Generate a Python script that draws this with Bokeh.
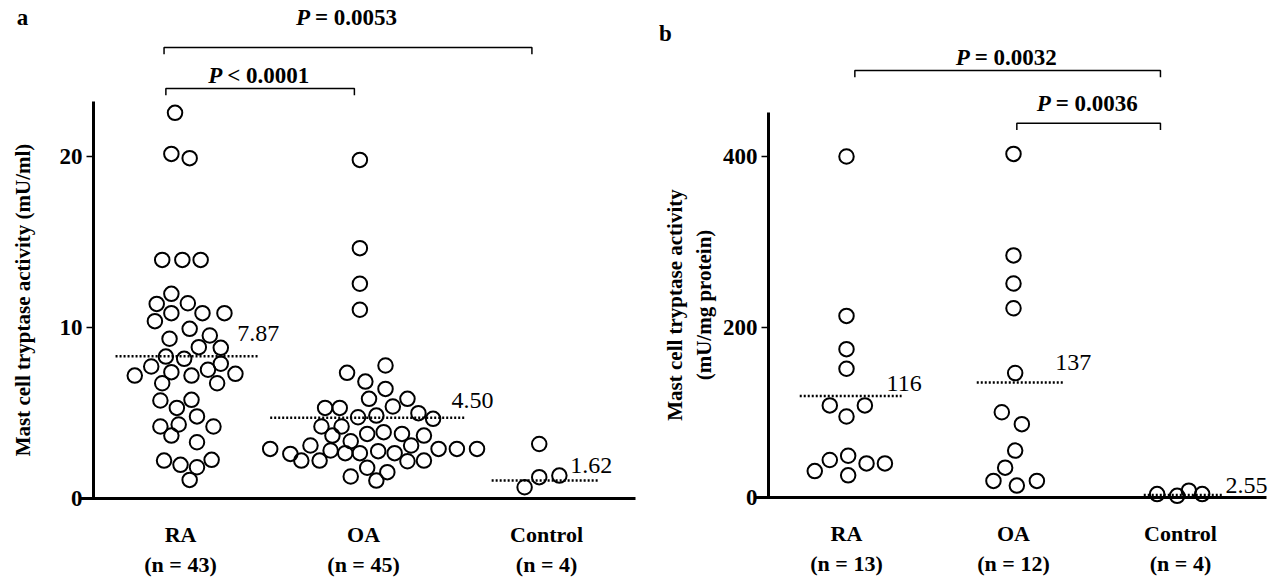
from bokeh.plotting import figure
from bokeh.layouts import row
from bokeh.models import FixedTicker, Range1d
from bokeh.core.properties import value
from bokeh.embed import file_html
from bokeh.resources import INLINE

# ---------------- data ----------------
groups = ["RA", "OA", "Control"]
a_n = [43, 45, 4]
b_n = [13, 12, 4]

# panel a: mast cell tryptase activity (mU/ml)
a_ra = [22.55, 20.15, 19.9, 13.95, 13.95, 13.95, 11.97, 11.38, 11.42, 10.84, 10.84, 10.84,
        10.37, 9.92, 9.34, 9.53, 8.85, 8.81, 8.30, 8.17, 7.88, 7.72, 7.19, 7.39, 7.19, 7.53,
        7.29, 6.74, 6.74, 5.73, 5.30, 5.77, 4.80, 4.21, 4.33, 3.68, 4.21, 3.29, 2.22, 1.97,
        1.83, 2.26, 1.09]
a_ra_jit = [-0.03, -0.05, 0.05, -0.10, 0.01, 0.11, -0.05, -0.13, 0.04, -0.05, 0.12, 0.24,
            -0.14, 0.05, -0.06, 0.16, 0.10, 0.22, -0.08, 0.02, 0.22, -0.16, -0.25, -0.05, 0.06, 0.15,
            0.30, -0.10, 0.20, -0.11, -0.02, 0.06, 0.09, -0.11, -0.01, -0.05, 0.18, 0.09, -0.09, 0.00,
            0.09, 0.17, 0.05]
a_oa = [19.8, 14.64, 12.56, 11.04, 7.78, 7.35, 6.84, 6.41, 5.83, 5.83, 5.30, 5.30, 5.38,
        4.99, 4.66, 4.75, 4.85, 4.21, 4.21, 3.78, 3.88, 3.78, 3.68, 3.68, 3.35, 3.10, 2.90,
        2.61, 2.22, 2.22, 2.81, 2.65, 2.65, 2.77, 2.65, 3.10, 2.90, 2.90, 2.90, 2.18, 2.22,
        1.80, 1.54, 1.29, 1.05]
a_oa_jit = [-0.02, -0.02, -0.02, -0.02, 0.12, -0.09, 0.01, 0.12, 0.03, 0.24, -0.21, -0.13, 0.16,
            0.30, 0.38, -0.03, 0.07, -0.23, -0.12, 0.02, 0.11, 0.21, 0.33, -0.17, -0.07, -0.29, -0.51,
            -0.40, -0.34, -0.24, -0.18, -0.10, -0.02, 0.08, 0.17, 0.26, 0.41, 0.51, 0.62, 0.24, 0.33,
            0.02, 0.13, -0.07, 0.07]
a_ct = [3.19, 0.66, 1.25, 1.34]
a_ct_jit = [-0.04, -0.12, -0.04, 0.07]
a_median_text = ["7.87", "4.50", "1.62"]
a_median_line = [8.32, 4.72, 1.05]

# panel b: mast cell tryptase activity (mU/mg protein)
b_ra = [400, 213, 174, 151, 108, 95, 108, 31, 44, 49, 26, 40, 40]
b_ra_jit = [0.0, 0.0, 0.0, 0.0, -0.10, 0.0, 0.11, -0.19, -0.10, 0.01, 0.01, 0.12, 0.23]
b_oa = [403, 284, 251, 222, 146, 100, 86, 55, 35, 19.5, 14, 19.5]
b_oa_jit = [0.0, 0.0, 0.0, 0.0, 0.01, -0.07, 0.05, 0.01, -0.05, -0.12, 0.02, 0.14]
b_ct = [4, 2, 8, 4]
b_ct_jit = [-0.14, -0.02, 0.05, 0.13]
b_median_text = ["116", "137", "2.55"]
b_median_line = [119, 135, 3]

a_p = [("P", "< 0.0001", 1, 2), ("P", "= 0.0053", 1, 3)]
b_p = [("P", "= 0.0036", 2, 3), ("P", "= 0.0032", 1, 3)]

FONT = "Liberation Serif"


def make_panel(tag, vals, jits, med_line, med_text, ns, pvals, ylabel, yticks,
               width, height, xr, yr, L):
    p = figure(width=width, height=height, x_range=Range1d(*xr), y_range=Range1d(*yr),
               output_backend="svg", toolbar_location=None,
               min_border_left=0, min_border_right=0, min_border_top=0, min_border_bottom=0)
    p.outline_line_color = None
    p.grid.visible = False
    p.background_fill_color = "white"
    p.border_fill_color = "white"

    # y axis, drawn inside the plot area
    ya = p.yaxis[0]
    ya.fixed_location = L["yaxis_at"]
    ya.ticker = FixedTicker(ticks=yticks)
    ya.bounds = L["ybound"]
    ya.axis_line_width = 3
    ya.axis_line_color = "black"
    ya.major_tick_out = 7
    ya.major_tick_in = 0
    ya.major_tick_line_width = 1.5
    ya.minor_tick_line_color = None
    ya.major_label_text_font = FONT
    ya.major_label_text_font_style = "bold"
    ya.major_label_text_font_size = "23px"
    ya.major_label_text_color = "black"
    ya.major_label_standoff = 4
    ya.axis_label = ylabel
    ya.axis_label_text_font = FONT
    ya.axis_label_text_font_style = "bold"
    ya.axis_label_text_font_size = "21px"
    ya.axis_label_text_color = "black"
    ya.axis_label_standoff = L["ylab_standoff"]

    # x axis = baseline at 0
    xa = p.xaxis[0]
    xa.fixed_location = 0
    xa.bounds = L["xbound"]
    xa.ticker = FixedTicker(ticks=[1, 2, 3])
    xa.major_label_overrides = {i + 1: f"{g}\n(n = {n})" for i, (g, n) in enumerate(zip(groups, ns))}
    xa.axis_line_width = 3
    xa.axis_line_color = "black"
    xa.major_tick_line_color = None
    xa.minor_tick_line_color = None
    xa.major_label_text_font = FONT
    xa.major_label_text_font_style = "bold"
    xa.major_label_text_font_size = "22px"
    xa.major_label_text_color = "black"
    xa.major_label_standoff = 17

    # points
    for i, (v, j) in enumerate(zip(vals, jits)):
        xs = [i + 1 + d for d in j]
        p.scatter(xs, v, marker="circle", size=14.5, fill_color=None,
                  line_color="black", line_width=2)

    # median lines and labels
    for i, (m, t) in enumerate(zip(med_line, med_text)):
        lo, hi, tx, ty = L["med"][i]
        p.segment(x0=[i + 1 + lo], x1=[i + 1 + hi], y0=[m], y1=[m],
                  line_color="black", line_width=2.5, line_dash="2 2")
        p.text(x=[i + 1 + tx], y=[m + ty], text=[t], text_font=value(FONT),
               text_font_size="24px", text_color="black", text_baseline="middle",
               text_align="left")

    # significance brackets
    for k, (pl, rest, g1, g2) in enumerate(pvals):
        yb, ytxt, dx1, dx2 = L["br"][k]
        x1, x2 = g1 + dx1, g2 + dx2
        tick = L["tick"]
        p.line([x1, x1, x2, x2], [yb - tick, yb, yb, yb - tick], line_color="black", line_width=1.5)
        xm = (x1 + x2) / 2
        p.text(x=[xm], y=[ytxt], text=[pl], text_font=value(FONT), text_font_style="bold italic",
               text_font_size="23px", text_align="left", text_baseline="middle",
               x_offset=-52, text_color="black")
        p.text(x=[xm], y=[ytxt], text=[rest], text_font=value(FONT), text_font_style="bold",
               text_font_size="23px", text_align="left", text_baseline="middle",
               x_offset=-33, text_color="black")

    # panel tag
    p.text(x=[L["tag"][0]], y=[L["tag"][1]], text=[tag], text_font=value(FONT),
           text_font_style="bold", text_font_size="23px", text_color="black",
           text_align="center", text_baseline="middle")
    return p


L_a = {
    "yaxis_at": 0.5246,
    "ybound": (0, 23.2),
    "xbound": (0.454, 3.486),
    "ylab_standoff": 22,
    "med": [(-0.355, 0.426, 0.31, 1.33), (-0.51, 0.55, 0.48, 1.01), (-0.30, 0.28, 0.13, 0.88)],
    "br": [(23.98, 24.74, -0.08, -0.05), (26.37, 28.13, -0.09, -0.08)],
    "tick": 0.4,
    "tag": (0.1366, 28.13),
}
L_b = {
    "yaxis_at": 0.533,
    "ybound": (0, 452),
    "xbound": (0.455, 3.515),
    "ylab_standoff": 4,
    "med": [(-0.28, 0.33, 0.24, 15), (-0.22, 0.30, 0.25, 23), (-0.22, 0.25, 0.27, 11)],
    "br": [(439, 462, 0.02, -0.12), (501, 516, 0.05, -0.12)],
    "tick": 8,
    "tag": (-0.0838, 544),
}

pa = make_panel("a", [a_ra, a_oa, a_ct], [a_ra_jit, a_oa_jit, a_ct_jit], a_median_line,
                a_median_text, a_n, a_p, "Mast cell tryptase activity (mU/ml)", [0, 10, 20],
                648, 582, (0.0164, 3.557), (-4.91, 29.12), L_a)
pb = make_panel("b", [b_ra, b_oa, b_ct], [b_ra_jit, b_oa_jit, b_ct_jit], b_median_line,
                b_median_text, b_n, b_p, "Mast cell tryptase activity\n(mU/mg protein)",
                [0, 200, 400], 624, 582, (-0.1856, 3.5509), (-99.7, 583.0), L_b)

layout = row(pa, pb)
open("out.html", "w").write(file_html(layout, INLINE))
